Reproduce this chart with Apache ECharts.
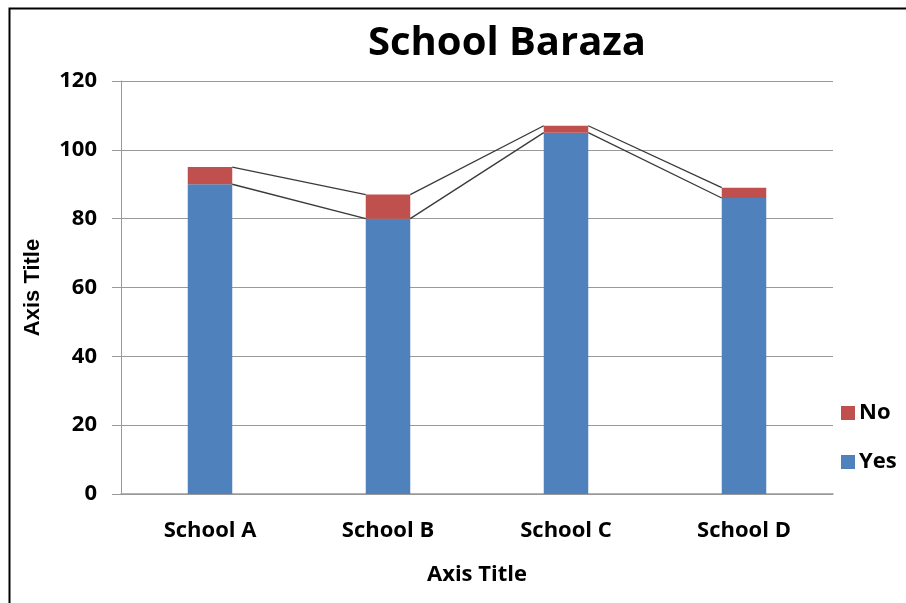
<!DOCTYPE html>
<html><head><meta charset="utf-8">
<script src="https://cdn.jsdelivr.net/npm/echarts@6/dist/echarts.min.js"></script>
<style>html,body{margin:0;padding:0;background:#fff}#c{width:906px;height:603px}</style>
</head><body><div id="c"></div>
<script>
const categories = ['School A', 'School B', 'School C', 'School D'];
const yesValues = [90, 80, 105, 86];
const noValues = [5, 7, 2, 3];
const yTicks = [0, 20, 40, 60, 80, 100, 120];

const FONT = '"Open Sans", "DejaVu Sans", sans-serif';
const BAR_FRAC = 0.25;
const tops = yesValues.map((v, i) => v + noValues[i]);

function seriesLineItem(levels) {
  return function (params, api) {
    const i = params.dataIndex;
    if (i >= categories.length - 1) return null;
    const band = api.size([1, 0])[0];
    const half = band * BAR_FRAC / 2;
    const p1 = api.coord([i, levels[i]]);
    const p2 = api.coord([i + 1, levels[i + 1]]);
    return {
      type: 'line',
      shape: { x1: p1[0] + half, y1: p1[1], x2: p2[0] - half, y2: p2[1] },
      style: { stroke: '#3a3a3a', lineWidth: 1.3 }
    };
  };
}

const chart = echarts.init(document.getElementById('c'), null, { renderer: 'canvas' });
chart.setOption({
  animation: false,
  backgroundColor: '#fff',
  graphic: [{
    type: 'rect', left: 7, top: 6, z: 100, silent: true,
    shape: { width: 1000, height: 700 },
    style: { fill: 'none', stroke: '#000', lineWidth: 2 }
  }],
  title: {
    text: 'School Baraza', left: 502, top: 19, textAlign: 'center',
    textStyle: { fontFamily: FONT, fontWeight: 'bold', fontSize: 40, color: '#000' }
  },
  legend: {
    orient: 'vertical', left: 836, top: 397, itemGap: 27,
    itemWidth: 14, itemHeight: 14, icon: 'rect',
    data: ['No', 'Yes'],
    textStyle: { fontFamily: FONT, fontWeight: 'bold', fontSize: 22, color: '#000', padding: [0, 0, 0, -1] }
  },
  grid: { left: 121, right: 73, top: 81, bottom: 109 },
  xAxis: {
    type: 'category', data: categories,
    name: 'Axis Title', nameLocation: 'middle', nameGap: 70,
    nameTextStyle: { fontFamily: FONT, fontWeight: 'bold', fontSize: 22, color: '#000' },
    axisLine: { lineStyle: { color: '#999', width: 1.5 } },
    axisTick: { show: false },
    axisLabel: { fontFamily: FONT, fontWeight: 'bold', fontSize: 22, color: '#000', margin: 26 }
  },
  yAxis: {
    type: 'value', min: 0, max: 120, interval: 20,
    name: 'Axis Title', nameLocation: 'middle', nameGap: 77,
    nameTextStyle: { fontFamily: '"Liberation Sans", Arial, sans-serif', fontWeight: 'bold', fontSize: 22, color: '#000' },
    axisLine: { show: true, lineStyle: { color: '#999' } },
    axisTick: { show: true, inside: false, length: 9, lineStyle: { color: '#999' } },
    splitLine: { lineStyle: { color: '#999' } },
    axisLabel: {
      fontFamily: FONT, fontWeight: 'bold', fontSize: 22, color: '#000', margin: 24,
      formatter: v => yTicks.includes(v) ? String(v) : ''
    }
  },
  series: [
    { name: 'Yes', type: 'bar', stack: 's', data: yesValues, barWidth: (BAR_FRAC * 100) + '%',
      itemStyle: { color: '#4F81BD' } },
    { name: 'No', type: 'bar', stack: 's', data: noValues,
      itemStyle: { color: '#C0504D' } },
    { name: 'lineYes', type: 'custom', data: yesValues.map((v, i) => [i, v]),
      renderItem: seriesLineItem(yesValues), z: 10, silent: true },
    { name: 'lineTop', type: 'custom', data: tops.map((v, i) => [i, v]),
      renderItem: seriesLineItem(tops), z: 10, silent: true }
  ]
});
</script>
</body></html>
